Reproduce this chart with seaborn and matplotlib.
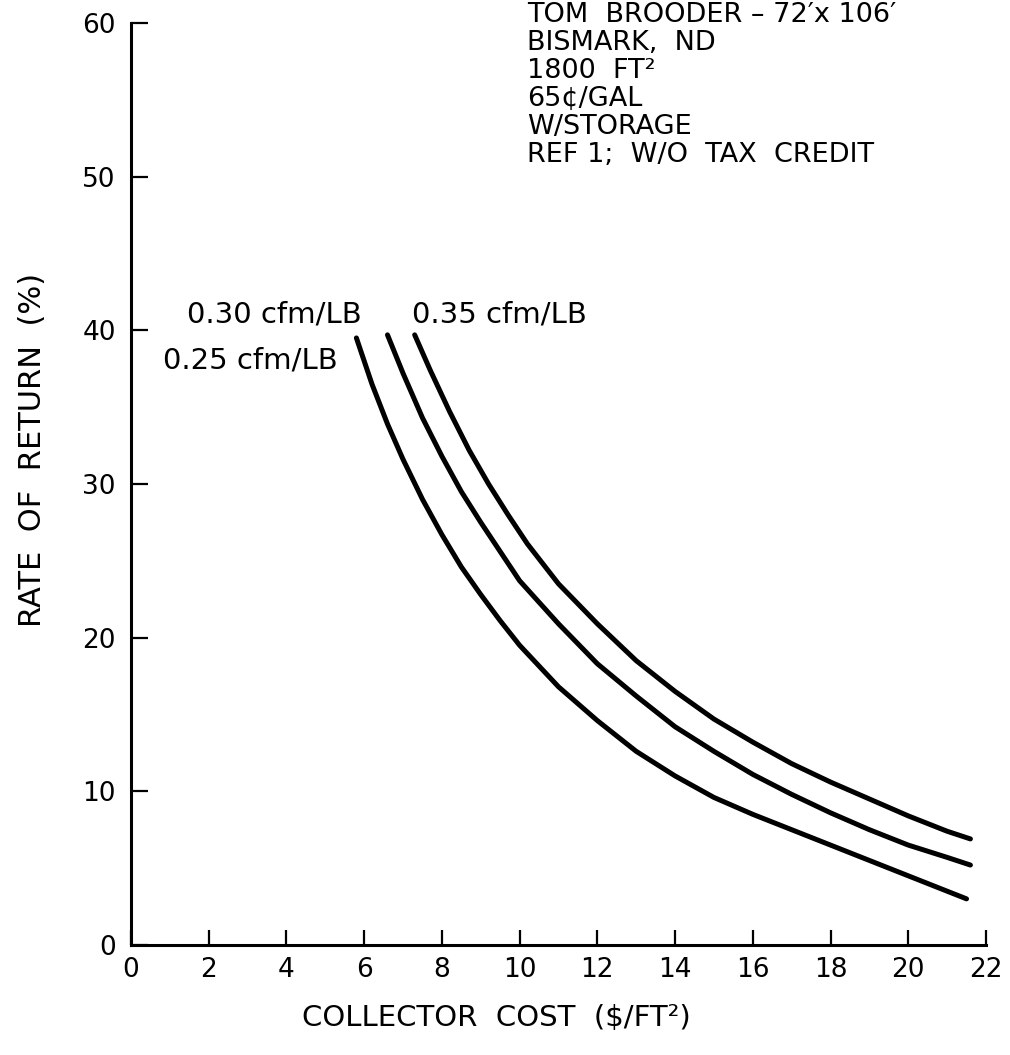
import matplotlib
matplotlib.use("Agg")
import matplotlib.pyplot as plt
import pandas as pd
import seaborn as sns

# Rate of return vs. collector cost for three air-flow rates
series_names = ["0.25 cfm/LB", "0.30 cfm/LB", "0.35 cfm/LB"]

cost_025 = [5.8, 6.2, 6.6, 7.0, 7.5, 8.0, 8.5, 9.0, 9.5, 10.0, 11.0, 12.0,
            13.0, 14.0, 15.0, 16.0, 17.0, 18.0, 19.0, 20.0, 21.0, 21.5]
ror_025 = [39.5, 36.5, 33.9, 31.6, 29.0, 26.7, 24.6, 22.8, 21.1, 19.5, 16.8, 14.6,
           12.6, 11.0, 9.6, 8.5, 7.5, 6.5, 5.5, 4.5, 3.5, 3.0]

cost_030 = [6.6, 7.0, 7.5, 8.0, 8.5, 9.0, 9.5, 10.0, 11.0, 12.0, 13.0, 14.0,
            15.0, 16.0, 17.0, 18.0, 19.0, 20.0, 21.0, 21.6]
ror_030 = [39.7, 37.2, 34.3, 31.8, 29.5, 27.5, 25.6, 23.7, 20.9, 18.3, 16.2, 14.2,
           12.6, 11.1, 9.8, 8.6, 7.5, 6.5, 5.7, 5.2]

cost_035 = [7.3, 7.7, 8.2, 8.7, 9.2, 9.7, 10.2, 11.0, 12.0, 13.0, 14.0, 15.0,
            16.0, 17.0, 18.0, 19.0, 20.0, 21.0, 21.6]
ror_035 = [39.7, 37.4, 34.7, 32.2, 30.0, 28.0, 26.1, 23.5, 20.9, 18.5, 16.5, 14.7,
           13.2, 11.8, 10.6, 9.5, 8.4, 7.4, 6.9]

x_ticks = list(range(0, 23, 2))
y_ticks = list(range(0, 61, 10))

info_lines = [
    "TOM  BROODER – 72′x 106′",
    "BISMARK,  ND",
    "1800  FT²",
    "65¢/GAL",
    "W/STORAGE",
    "REF 1;  W/O  TAX  CREDIT",
]

frames = []
for name, xs, ys in zip(series_names,
                        [cost_025, cost_030, cost_035],
                        [ror_025, ror_030, ror_035]):
    frames.append(pd.DataFrame({"cost": xs, "ror": ys, "flow": name}))
df = pd.concat(frames, ignore_index=True)

sns.set_style("ticks")
plt.rcParams["font.family"] = ["DejaVu Sans"]
plt.rcParams["text.color"] = "black"
plt.rcParams["axes.labelcolor"] = "black"

fig = plt.figure(figsize=(10.1, 10.55), dpi=100)
ax = fig.add_axes([0.1297, 0.1043, 0.8465, 0.874])

sns.lineplot(data=df, x="cost", y="ror", hue="flow", units="flow",
             estimator=None, sort=False,
             palette=["black"] * 3, linewidth=3.6, legend=False, ax=ax)

ax.set_xlim(0, 22)
ax.set_ylim(0, 60)
ax.set_xticks(x_ticks)
ax.set_yticks(y_ticks)
ax.set_xticklabels([str(v) for v in x_ticks])
ax.set_yticklabels([str(v) for v in y_ticks])

for side in ("top", "right"):
    ax.spines[side].set_visible(False)
for side in ("left", "bottom"):
    ax.spines[side].set_linewidth(2.2)
    ax.spines[side].set_color("black")

ax.tick_params(axis="y", direction="in", length=12, width=1.6,
               labelsize=19, pad=11, colors="black")
ax.tick_params(axis="x", direction="in", length=11, width=1.6,
               labelsize=19, pad=9, colors="black")

ax.set_xlabel("COLLECTOR  COST  (\\$/FT²)", fontsize=21, va="center")
ax.xaxis.set_label_coords(0.427, -0.079)
ax.set_ylabel("RATE  OF  RETURN  (%)", fontsize=22, va="center")
ax.yaxis.set_label_coords(-0.115, 0.537)

# curve labels
ax.text(1.44, 41.05, series_names[1], fontsize=21, va="center", ha="left")
ax.text(0.82, 38.0, series_names[0], fontsize=21, va="center", ha="left")
ax.text(7.22, 41.05, series_names[2], fontsize=21, va="center", ha="left")

# case description block
for i, line in enumerate(info_lines):
    fig.text(527 / 1010, 1 - (15 + 28 * i) / 1055, line,
             fontsize=19.5, va="center", ha="left")

fig.savefig("out.png", dpi=100, facecolor="white")
